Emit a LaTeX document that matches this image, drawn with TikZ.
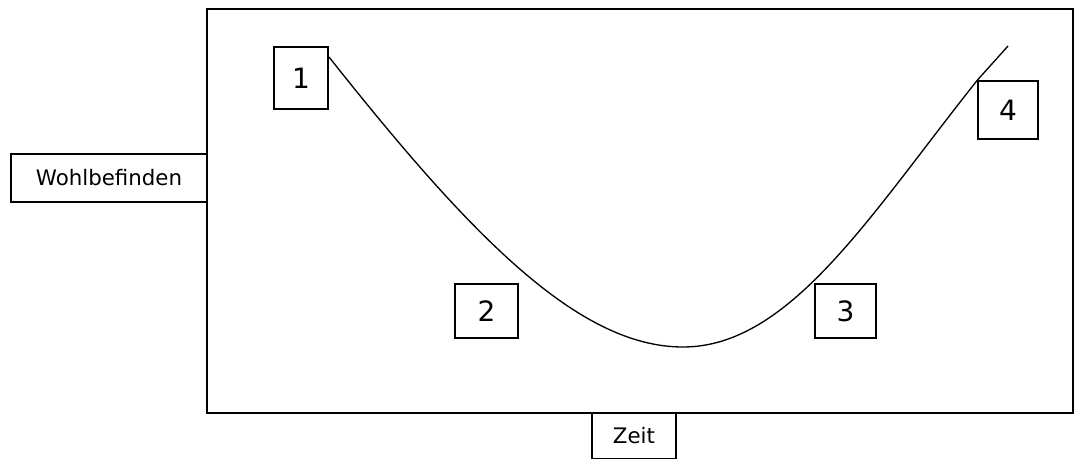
\documentclass[tikz,border=0pt]{standalone}
\usepackage{fontspec}
\setmainfont{DejaVu Sans}
\usetikzlibrary{positioning, calc}

\begin{document}
\begin{tikzpicture}[
    x=0.75pt, y=-0.75pt,
    line width=1.1pt,
    numbox/.style={draw, inner sep=0pt, font=\fontsize{21}{25}\selectfont},
    labelbox/.style={draw, inner sep=0pt, font=\fontsize{16}{19}\selectfont}
]
\useasboundingbox (0,0) rectangle (1081,459);

% Frame
\coordinate (TL) at (207,9);
\coordinate (BR) at (1073,413);
\draw (TL) rectangle (BR);

% Define nodes
\node (one)   [numbox, minimum width=40.5pt, minimum height=46.5pt] at (301,78) {1};
\node (two)   [numbox, minimum width=47pt, minimum height=40.5pt] at (486.5,311) {2};
\node (three) [numbox, minimum width=45.75pt, minimum height=40.5pt] at (845.5,311) {3};
\node (four)  [numbox, minimum width=45pt, minimum height=43.5pt] at (1008,110) {4};
\node (wohl)  [labelbox, minimum width=147pt, minimum height=36pt] at (109,178) {Wohlbefinden};
\node (zeit)  [labelbox, minimum width=63pt, minimum height=34.5pt] at (634,436) {Zeit};

% Curve
\coordinate (start) at (329,57);
\coordinate (low) at (683,347);
\coordinate (end) at (1008,46);
\draw[line width=1pt] (start) .. controls (470,235) and (578,347) .. (low)
      .. controls (790,347) and (870,215) .. (four.north west) -- (end);

\end{tikzpicture}
\end{document}
